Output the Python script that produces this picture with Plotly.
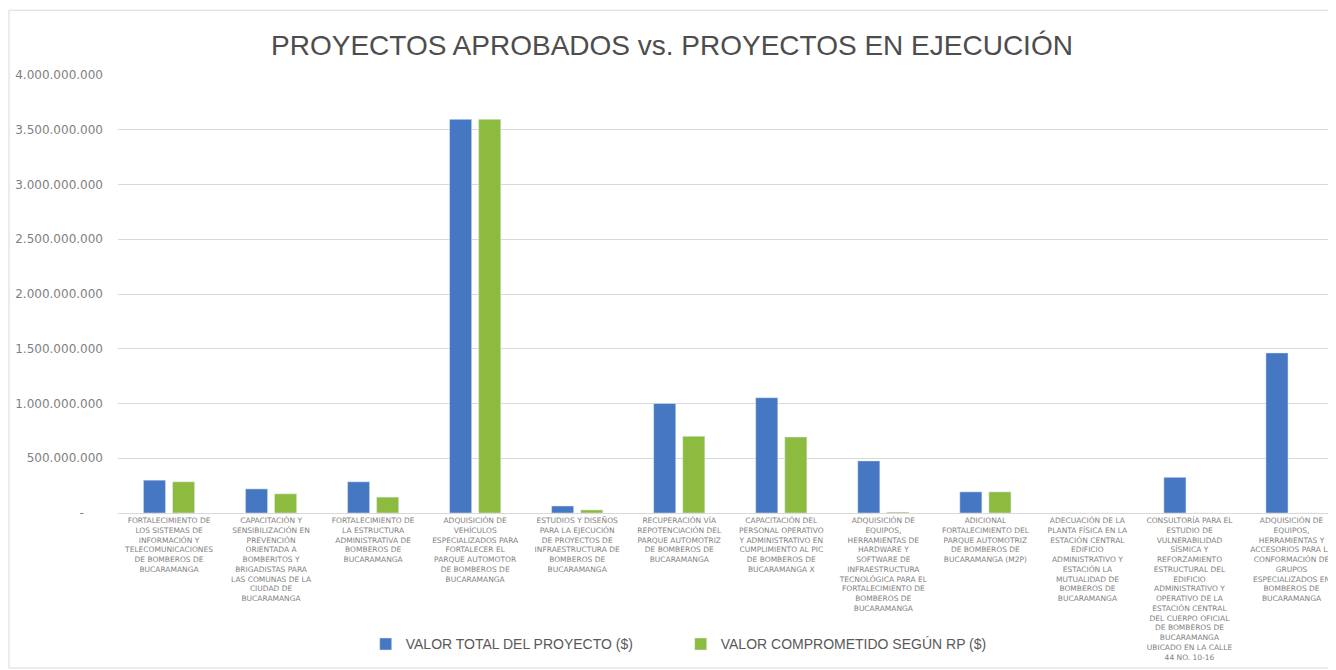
import plotly.graph_objects as go

# proyectos (etiquetas del eje x, partidas como en el original)
proyectos = [
    "FORTALECIMIENTO DE<br>LOS SISTEMAS DE<br>INFORMACIÓN Y<br>TELECOMUNICACIONES<br>DE BOMBEROS DE<br>BUCARAMANGA",
    "CAPACITACIÓN Y<br>SENSIBILIZACIÓN EN<br>PREVENCIÓN<br>ORIENTADA A<br>BOMBERITOS Y<br>BRIGADISTAS PARA<br>LAS COMUNAS DE LA<br>CIUDAD DE<br>BUCARAMANGA",
    "FORTALECIMIENTO DE<br>LA ESTRUCTURA<br>ADMINISTRATIVA DE<br>BOMBEROS DE<br>BUCARAMANGA",
    "ADQUISICIÓN DE<br>VEHÍCULOS<br>ESPECIALIZADOS PARA<br>FORTALECER EL<br>PARQUE AUTOMOTOR<br>DE BOMBEROS DE<br>BUCARAMANGA",
    "ESTUDIOS Y DISEÑOS<br>PARA LA EJECUCIÓN<br>DE PROYECTOS DE<br>INFRAESTRUCTURA DE<br>BOMBEROS DE<br>BUCARAMANGA",
    "RECUPERACIÓN VÍA<br>REPOTENCIACIÓN DEL<br>PARQUE AUTOMOTRIZ<br>DE BOMBEROS DE<br>BUCARAMANGA",
    "CAPACITACIÓN DEL<br>PERSONAL OPERATIVO<br>Y ADMINISTRATIVO EN<br>CUMPLIMIENTO AL PIC<br>DE BOMBEROS DE<br>BUCARAMANGA X",
    "ADQUISICIÓN DE<br>EQUIPOS,<br>HERRAMIENTAS DE<br>HARDWARE Y<br>SOFTWARE DE<br>INFRAESTRUCTURA<br>TECNOLÓGICA PARA EL<br>FORTALECIMIENTO DE<br>BOMBEROS DE<br>BUCARAMANGA",
    "ADICIONAL<br>FORTALECIMIENTO DEL<br>PARQUE AUTOMOTRIZ<br>DE BOMBEROS DE<br>BUCARAMANGA (M2P)",
    "ADECUACIÓN DE LA<br>PLANTA FÍSICA EN LA<br>ESTACIÓN CENTRAL<br>EDIFICIO<br>ADMINISTRATIVO Y<br>ESTACIÓN LA<br>MUTUALIDAD DE<br>BOMBEROS DE<br>BUCARAMANGA",
    "CONSULTORÍA PARA EL<br>ESTUDIO DE<br>VULNERABILIDAD<br>SÍSMICA Y<br>REFORZAMIENTO<br>ESTRUCTURAL DEL<br>EDIFICIO<br>ADMINISTRATIVO Y<br>OPERATIVO DE LA<br>ESTACIÓN CENTRAL<br>DEL CUERPO OFICIAL<br>DE BOMBEROS DE<br>BUCARAMANGA<br>UBICADO EN LA CALLE<br>44 NO. 10-16",
    "ADQUISICIÓN DE<br>EQUIPOS,<br>HERRAMIENTAS Y<br>ACCESORIOS PARA LA<br>CONFORMACIÓN DE<br>GRUPOS<br>ESPECIALIZADOS EN<br>BOMBEROS DE<br>BUCARAMANGA",
]

valor_total = [300e6, 220e6, 285e6, 3595e6, 64e6, 1000e6, 1053e6, 476e6, 193e6, 0, 326e6, 1462e6]
valor_rp = [285e6, 175e6, 145e6, 3595e6, 28e6, 700e6, 694e6, 8e6, 193e6, 0, 0, 0]

y_ticks = [0, 500e6, 1000e6, 1500e6, 2000e6, 2500e6, 3000e6, 3500e6, 4000e6]
y_labels = ["-" + "\u00a0" * 5, "500.000.000", "1.000.000.000", "1.500.000.000", "2.000.000.000",
            "2.500.000.000", "3.000.000.000", "3.500.000.000", "4.000.000.000"]

AZUL = "#4677C3"
VERDE = "#8DBB3F"
GRIS = "#595959"

fig = go.Figure()
fig.add_trace(go.Bar(x=proyectos, y=valor_total, name="VALOR TOTAL DEL PROYECTO ($)",
                     marker_color=AZUL))
fig.add_trace(go.Bar(x=proyectos, y=valor_rp, name="VALOR COMPROMETIDO SEGÚN RP ($)",
                     marker_color=VERDE))

# la página añade 8 px de margen: se compensa aquí
fig.update_layout(
    width=1336, height=670,
    margin=dict(l=110, r=8, t=67, b=165, autoexpand=False),
    paper_bgcolor="white", plot_bgcolor="white",
    barmode="group", bargap=0.43, bargroupgap=0.24,
    title=dict(text="PROYECTOS APROBADOS vs. PROYECTOS EN EJECUCIÓN",
               x=0.497, xanchor="center", y=0.945, yanchor="middle",
               font=dict(family="Liberation Sans, Arial", size=28, color="#4d4d4d")),
    legend=dict(orientation="h", x=0.462, xanchor="center", y=-0.30, yanchor="middle",
                font=dict(family="Liberation Sans, Arial", size=14, color=GRIS),
                itemwidth=30, entrywidth=270, traceorder="normal"),
    showlegend=True,
)

fig.update_xaxes(
    range=[-0.5, 11.436], showgrid=False, ticks="", showline=True,
    linecolor="#d9d9d9", linewidth=1, tickangle=0, automargin=False,
    tickfont=dict(family="DejaVu Sans", size=7.5, color="#7f7f7f"),
)
fig.update_yaxes(
    range=[0, 4e9], tickvals=y_ticks, ticktext=y_labels, showgrid=True,
    gridcolor="#d9d9d9", gridwidth=1, zeroline=False, automargin=False,
    ticks="", ticklabelstandoff=14,
    tickfont=dict(family="DejaVu Sans", size=12, color="#7f7f7f"),
)

# marco del gráfico
fig.add_shape(type="rect", xref="paper", yref="paper",
              x0=-0.0895, x1=1.01, y0=-0.354, y1=1.148,
              line=dict(color="#d9d9d9", width=1), layer="below")

fig.write_html("out.html")
